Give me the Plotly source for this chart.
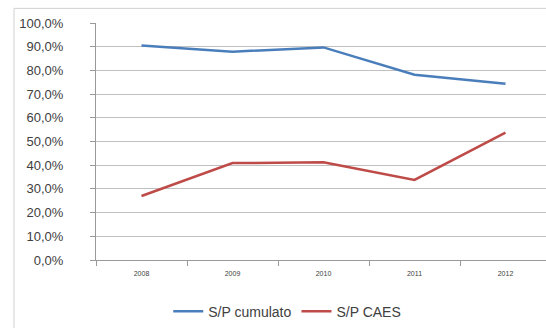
import plotly.graph_objects as go

# Loss ratios by year
years = ["2008", "2009", "2010", "2011", "2012"]
sp_cumulato = [0.905, 0.879, 0.897, 0.782, 0.744]
sp_caes = [0.270, 0.409, 0.412, 0.338, 0.537]

y_ticks = [i / 10 for i in range(11)]

fig = go.Figure()
fig.add_trace(go.Scatter(
    x=years, y=sp_cumulato, mode="lines", name="S/P cumulato",
    line=dict(color="#4a7ebb", width=2.5),
))
fig.add_trace(go.Scatter(
    x=years, y=sp_caes, mode="lines", name="S/P CAES",
    line=dict(color="#be4b48", width=2.5),
))

W, H = 546, 328
L, R, T, B = 96, 0, 23, 62
pw, ph = W - L - R, H - T - B

# outer chart frame (left and top edges fall inside the canvas)
fig.add_shape(
    type="rect", xref="paper", yref="paper",
    x0=(14 - L) / pw, x1=1.2, y0=-0.6, y1=(H - B - 8) / ph,
    line=dict(color="#d0d0d0", width=1), fillcolor="rgba(0,0,0,0)", layer="below",
)

fig.update_layout(
    width=W, height=H,
    margin=dict(l=L, r=R, t=T, b=B),
    paper_bgcolor="white", plot_bgcolor="white",
    separators=",.",
    font=dict(family="Liberation Sans, Arial, sans-serif", color="#404040"),
    showlegend=True,
    legend=dict(
        orientation="h", x=0.425, xanchor="center", y=(H - B - 319) / ph, yanchor="middle",
        font=dict(size=14, color="#404040"), bgcolor="rgba(0,0,0,0)",
        itemwidth=30, tracegroupgap=0,
    ),
    xaxis=dict(
        type="category", range=[-0.5, 4.445],
        showgrid=False, showline=True, linecolor="#9a9a9a", linewidth=1,
        ticks="outside", ticklen=5, tickcolor="#9a9a9a", tickson="boundaries",
        tickfont=dict(size=7, color="#404040"), ticklabelstandoff=7,
        zeroline=False, fixedrange=True,
    ),
    yaxis=dict(
        range=[0, 1], tickvals=y_ticks, tickformat=".1%",
        showgrid=True, gridcolor="#c0c0c0", gridwidth=1.3,
        showline=True, linecolor="#9a9a9a", linewidth=1,
        ticks="outside", ticklen=5, tickcolor="#9a9a9a",
        tickfont=dict(size=13, color="#404040"), ticklabelstandoff=24,
        zeroline=False, fixedrange=True,
    ),
)

fig.write_html("out.html")
